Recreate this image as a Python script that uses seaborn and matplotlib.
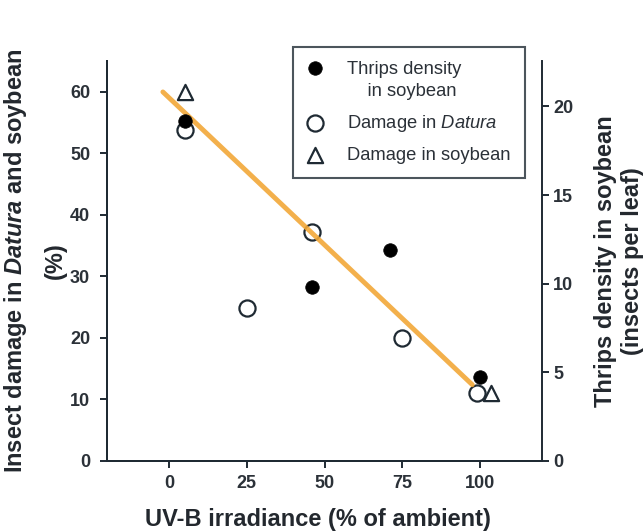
import numpy as np
import pandas as pd
import matplotlib
matplotlib.use("Agg")
import matplotlib.pyplot as plt
import seaborn as sns

# values
uvb_thrips = [5, 46, 71, 100]
thrips_density = [19.2, 9.8, 11.9, 4.75]

uvb_datura = [5, 25, 46, 75, 99]
damage_datura = [53.8, 24.9, 37.2, 20.0, 11.0]

uvb_soybean = [5, 103.5]
damage_soybean = [60.0, 11.0]

fit_x = [-2, 97.5]
fit_y = [60.0, 12.4]

x_ticks = [0, 25, 50, 75, 100]
left_ticks = [0, 10, 20, 30, 40, 50, 60]
right_ticks = [0, 5, 10, 15, 20]

ink = "#1f2a33"
orange = "#F2A838"

sns.set_style("ticks")
plt.rcParams["font.family"] = ["Liberation Sans", "DejaVu Sans"]
plt.rcParams["mathtext.fontset"] = "custom"
plt.rcParams["mathtext.it"] = "Liberation Sans:bold:italic"
plt.rcParams["mathtext.sf"] = "Liberation Sans:italic"
plt.rcParams["mathtext.rm"] = "Liberation Sans"

fig = plt.figure(figsize=(6.44, 5.32), dpi=100)
ax = fig.add_axes([0.166, 0.1335, 0.676, 0.7515])
ax2 = ax.twinx()

sns.scatterplot(x=uvb_datura, y=damage_datura, ax=ax, marker="o", s=135,
                facecolor="white", edgecolor=ink, linewidth=1.6, zorder=3,
                label="Damage in $\\mathsf{Datura}$")
sns.scatterplot(x=uvb_soybean, y=damage_soybean, ax=ax, marker="^", s=120,
                facecolor="white", edgecolor=ink, linewidth=1.6, zorder=3,
                label="Damage in soybean")
sns.lineplot(x=fit_x, y=fit_y, ax=ax, color=orange, linewidth=3.5,
             alpha=0.9, zorder=4)
sns.scatterplot(x=uvb_thrips, y=thrips_density, ax=ax2, marker="o", s=95,
                color="black", edgecolor="black", linewidth=0.5, zorder=3,
                label="Thrips density\n    in soybean")

ax.set_xlim(-20, 120)
ax.set_ylim(0, 65)
ax2.set_ylim(0, 22.55)
ax.set_xticks(x_ticks)
ax.set_yticks(left_ticks)
ax2.set_yticks(right_ticks)

for a in (ax, ax2):
    a.spines["top"].set_visible(False)
    for sp in a.spines.values():
        sp.set_color(ink)
        sp.set_linewidth(1.4)
ax.spines["right"].set_visible(False)

tick_font = dict(fontsize=13, fontweight="bold", color="#2b3138")
ax.set_xticklabels([str(v) for v in x_ticks], **tick_font)
ax.set_yticklabels([str(v) for v in left_ticks], **tick_font)
ax2.set_yticklabels([str(v) for v in right_ticks], **tick_font)
ax.tick_params(axis="x", length=5, width=1.4, color=ink, pad=5)
ax.tick_params(axis="y", length=5, width=1.4, color=ink, pad=7)
ax2.tick_params(axis="y", length=5, width=1.4, color=ink, pad=3)

label_font = dict(fontsize=17, fontweight="bold", color="#23282e")
ax.set_xlabel("UV-B irradiance (% of ambient)", **label_font)
ax.xaxis.set_label_coords(0.485, -0.118)
ax.set_ylabel("Insect damage in $\\mathit{Datura}$ and soybean\n(%)",
              linespacing=1.8, **label_font)
ax.yaxis.set_label_coords(-0.092, 0.5)
ax2.set_ylabel("Thrips density in soybean\n(insects per leaf)", **label_font)
ax2.yaxis.set_label_coords(1.12, 0.5)

if ax.get_legend() is not None:
    ax.get_legend().remove()
h1, l1 = ax.get_legend_handles_labels()
h2, l2 = ax2.get_legend_handles_labels()
leg = ax2.legend(h2 + h1, l2 + l1, loc="upper left",
                 bbox_to_anchor=(0.455, 0.912), bbox_transform=fig.transFigure,
                 borderaxespad=0, fancybox=False, frameon=True,
                 fontsize=13.2, labelspacing=0.7, handletextpad=1.35,
                 borderpad=0.8, handlelength=0.8, labelcolor="#2b3138")
leg.get_frame().set_edgecolor(ink)
leg.get_frame().set_linewidth(1.5)
for t in leg.get_texts():
    t.set_linespacing(1.35)
# put the filled dot next to the first line of its two-line label
dot = leg.legend_handles[0]
off = dot.get_offsets().copy()
off[:, 1] += 10.5
dot.set_offsets(off)

fig.savefig("out.png", dpi=100, facecolor="white")
